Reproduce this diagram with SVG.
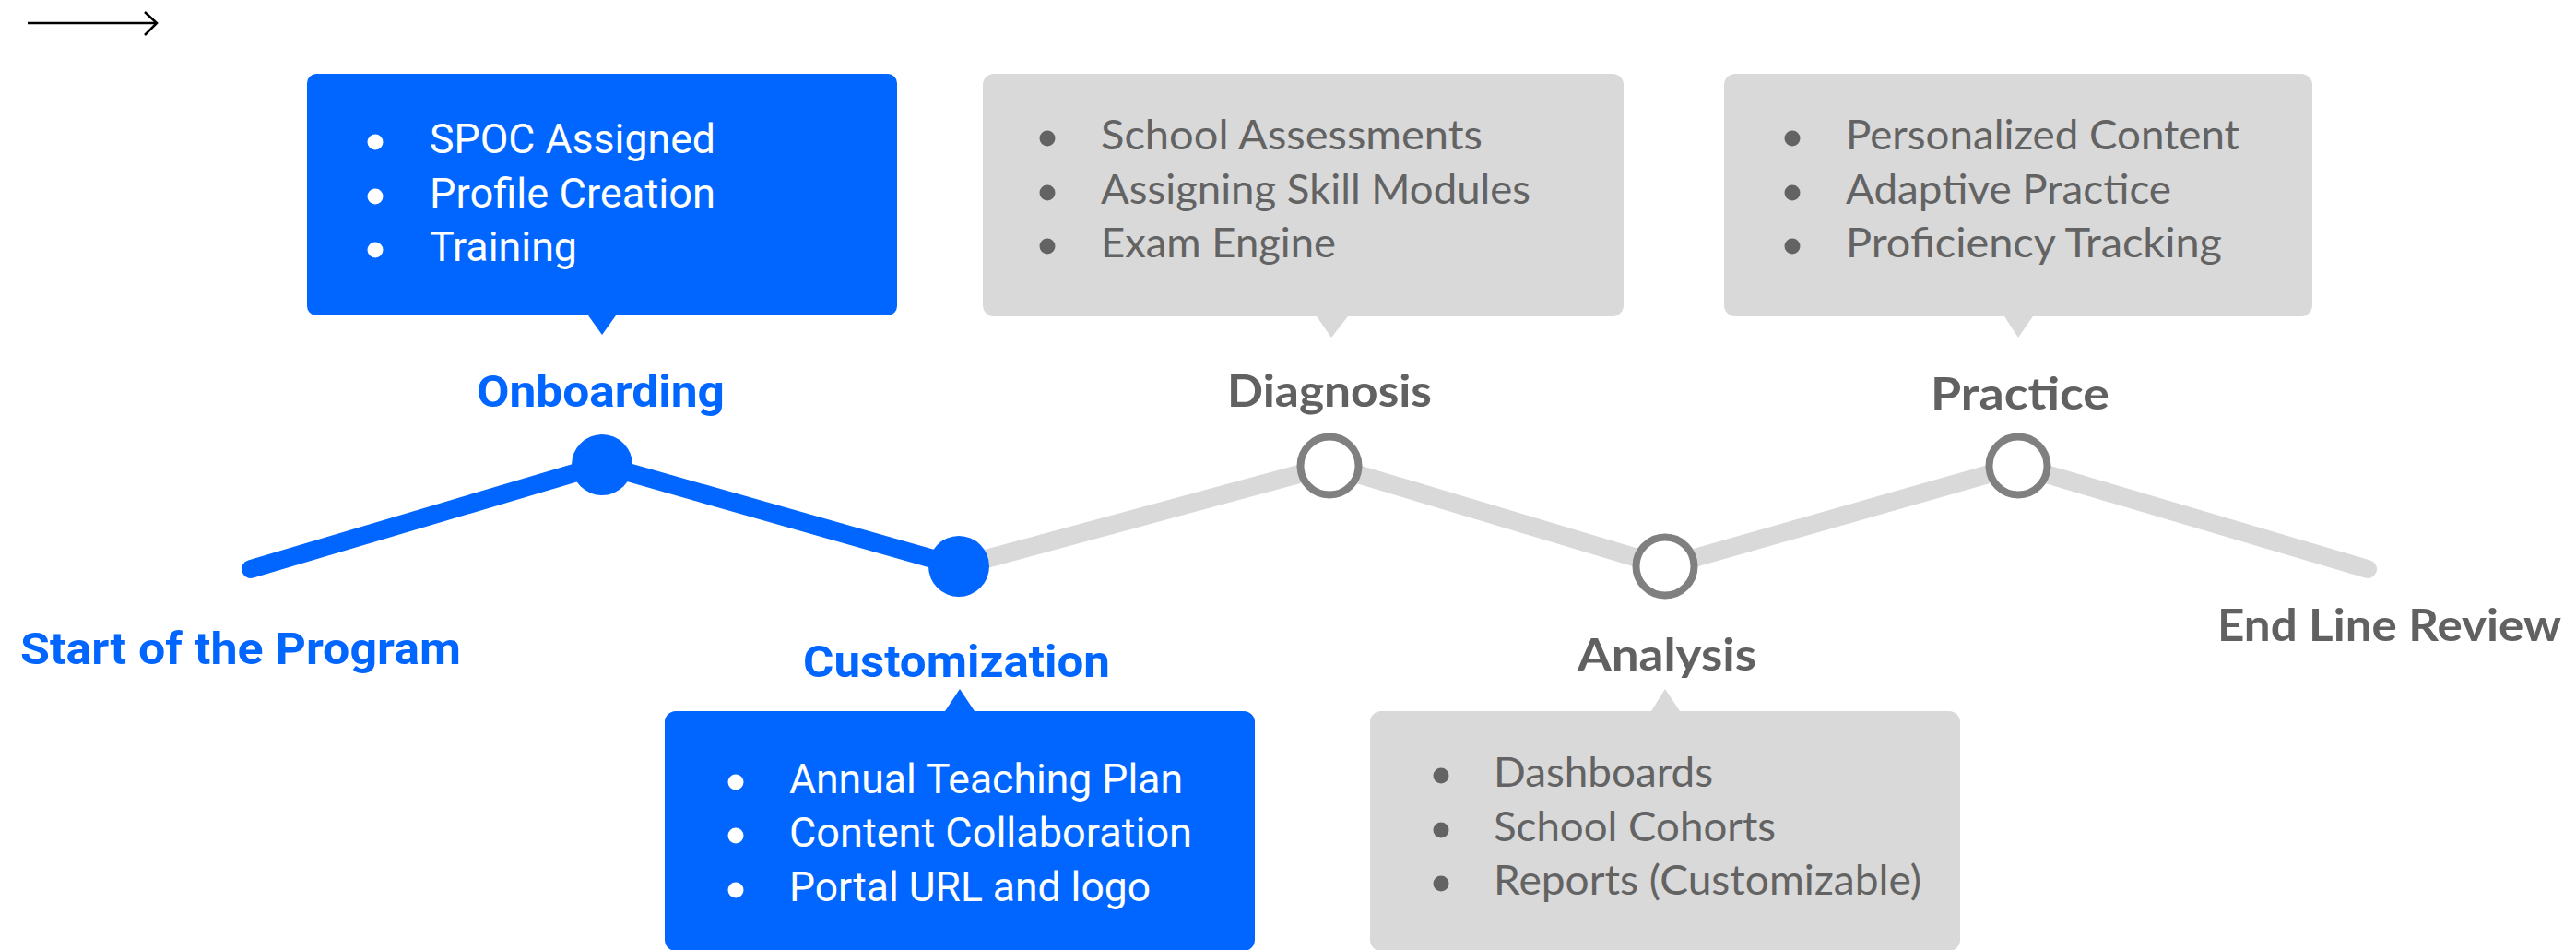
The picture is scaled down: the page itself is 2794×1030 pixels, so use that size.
<svg xmlns="http://www.w3.org/2000/svg" width="2794" height="1030" viewBox="0 0 2794 1030">
  <defs>
    <style>
      .bluebox { fill: #0066ff; }
      .graybox { fill: #d9d9d9; }
      .btxt { font-family: Roboto, "Liberation Sans", sans-serif; font-size: 44px; fill: #ffffff; }
      .gtxt { font-family: Lato, "Liberation Sans", sans-serif; font-size: 44px; fill: #636363; }
      .bdot { fill: #ffffff; }
      .gdot { fill: #636363; }
      .blbl { font-family: Roboto, "Liberation Sans", sans-serif; font-weight: bold; font-size: 48px; fill: #0066ff; }
      .glbl { font-family: Lato, "Liberation Sans", sans-serif; font-weight: bold; font-size: 47px; fill: #616161; }
      .bline { fill: none; stroke: #0066ff; stroke-width: 20; stroke-linecap: round; stroke-linejoin: round; }
      .gline { fill: none; stroke: #d9d9d9; stroke-width: 20; stroke-linecap: round; stroke-linejoin: round; }
      .bnode { fill: #0066ff; }
      .gnode { fill: #ffffff; stroke: #808080; stroke-width: 8; }
    </style>
  </defs>
  <rect width="2794" height="1030" fill="#ffffff"/>

  <g id="legend-arrow" fill="none" stroke="#000000" stroke-width="2.5">
    <line x1="30" y1="25" x2="169" y2="25"/>
    <polyline points="157,13 170,25 157,38"/>
  </g>

  <g id="connectors">
    <polyline class="gline" points="1040,614 1442,505 1806,614 2189,505 2568,617"/>
    <polyline class="bline" points="272,617 653,504 1040,614"/>
  </g>

  <g id="start">
    <text class="blbl" x="22" y="720" textLength="478" lengthAdjust="spacingAndGlyphs">Start of the Program</text>
  </g>

  <g id="onboarding">
    <circle class="bnode" cx="653" cy="504" r="33"/>
    <text class="blbl" x="517" y="441" textLength="269" lengthAdjust="spacingAndGlyphs">Onboarding</text>
    <path class="bluebox" d="M343,80 H963 A10,10 0 0 1 973,90 V332 A10,10 0 0 1 963,342 H668 L653,363 L638,342 H343 A10,10 0 0 1 333,332 V90 A10,10 0 0 1 343,80 Z"/>
    <circle class="bdot" cx="407" cy="154" r="8.5"/>
    <circle class="bdot" cx="407" cy="213" r="8.5"/>
    <circle class="bdot" cx="407" cy="271" r="8.5"/>
    <text class="btxt" x="466" y="166" textLength="310" lengthAdjust="spacingAndGlyphs">SPOC Assigned</text>
    <text class="btxt" x="466" y="225" textLength="310" lengthAdjust="spacingAndGlyphs">Profile Creation</text>
    <text class="btxt" x="466" y="283" textLength="160" lengthAdjust="spacingAndGlyphs">Training</text>
  </g>

  <g id="customization">
    <circle class="bnode" cx="1040" cy="614" r="33"/>
    <text class="blbl" x="871" y="734" textLength="333" lengthAdjust="spacingAndGlyphs">Customization</text>
    <path class="bluebox" d="M733,771 H1025 L1041,747 L1057,771 H1349 A12,12 0 0 1 1361,783 V1019 A12,12 0 0 1 1349,1031 H733 A12,12 0 0 1 721,1019 V783 A12,12 0 0 1 733,771 Z"/>
    <circle class="bdot" cx="798" cy="848" r="8.5"/>
    <circle class="bdot" cx="798" cy="906" r="8.5"/>
    <circle class="bdot" cx="798" cy="965" r="8.5"/>
    <text class="btxt" x="856" y="860" textLength="427" lengthAdjust="spacingAndGlyphs">Annual Teaching Plan</text>
    <text class="btxt" x="856" y="918" textLength="437" lengthAdjust="spacingAndGlyphs">Content Collaboration</text>
    <text class="btxt" x="856" y="977" textLength="392" lengthAdjust="spacingAndGlyphs">Portal URL and logo</text>
  </g>

  <g id="diagnosis">
    <circle class="gnode" cx="1442" cy="505" r="31.5"/>
    <text class="glbl" x="1331" y="441" textLength="222" lengthAdjust="spacingAndGlyphs">Diagnosis</text>
    <path class="graybox" d="M1078,80 H1749 A12,12 0 0 1 1761,92 V331 A12,12 0 0 1 1749,343 H1462 L1444,366 L1428,343 H1078 A12,12 0 0 1 1066,331 V92 A12,12 0 0 1 1078,80 Z"/>
    <circle class="gdot" cx="1136" cy="150" r="8.5"/>
    <circle class="gdot" cx="1136" cy="209" r="8.5"/>
    <circle class="gdot" cx="1136" cy="267" r="8.5"/>
    <text class="gtxt" x="1194" y="162" textLength="414" lengthAdjust="spacingAndGlyphs">School Assessments</text>
    <text class="gtxt" x="1194" y="221" textLength="466" lengthAdjust="spacingAndGlyphs">Assigning Skill Modules</text>
    <text class="gtxt" x="1194" y="279" textLength="255" lengthAdjust="spacingAndGlyphs">Exam Engine</text>
  </g>

  <g id="analysis">
    <circle class="gnode" cx="1806" cy="614" r="31.5"/>
    <text class="glbl" x="1711" y="727" textLength="194" lengthAdjust="spacingAndGlyphs">Analysis</text>
    <path class="graybox" d="M1498,771 H1791 L1806,747 L1822,771 H2114 A12,12 0 0 1 2126,783 V1019 A12,12 0 0 1 2114,1031 H1498 A12,12 0 0 1 1486,1019 V783 A12,12 0 0 1 1498,771 Z"/>
    <circle class="gdot" cx="1563" cy="841" r="8.5"/>
    <circle class="gdot" cx="1563" cy="900" r="8.5"/>
    <circle class="gdot" cx="1563" cy="958" r="8.5"/>
    <text class="gtxt" x="1620" y="853" textLength="238" lengthAdjust="spacingAndGlyphs">Dashboards</text>
    <text class="gtxt" x="1620" y="912" textLength="306" lengthAdjust="spacingAndGlyphs">School Cohorts</text>
    <text class="gtxt" x="1620" y="970" textLength="464" lengthAdjust="spacingAndGlyphs">Reports (Customizable)</text>
  </g>

  <g id="practice">
    <circle class="gnode" cx="2189" cy="505" r="31.5"/>
    <text class="glbl" x="2094" y="444" textLength="194" lengthAdjust="spacingAndGlyphs">Practice</text>
    <path class="graybox" d="M1882,80 H2496 A12,12 0 0 1 2508,92 V331 A12,12 0 0 1 2496,343 H2205 L2189,366 L2174,343 H1882 A12,12 0 0 1 1870,331 V92 A12,12 0 0 1 1882,80 Z"/>
    <circle class="gdot" cx="1944" cy="150" r="8.5"/>
    <circle class="gdot" cx="1944" cy="209" r="8.5"/>
    <circle class="gdot" cx="1944" cy="267" r="8.5"/>
    <text class="gtxt" x="2002" y="162" textLength="427" lengthAdjust="spacingAndGlyphs">Personalized Content</text>
    <text class="gtxt" x="2002" y="221" textLength="353" lengthAdjust="spacingAndGlyphs">Adaptive Practice</text>
    <text class="gtxt" x="2002" y="279" textLength="408" lengthAdjust="spacingAndGlyphs">Proficiency Tracking</text>
  </g>

  <g id="end">
    <text class="glbl" x="2405" y="695" textLength="373" lengthAdjust="spacingAndGlyphs">End Line Review</text>
  </g>
</svg>
